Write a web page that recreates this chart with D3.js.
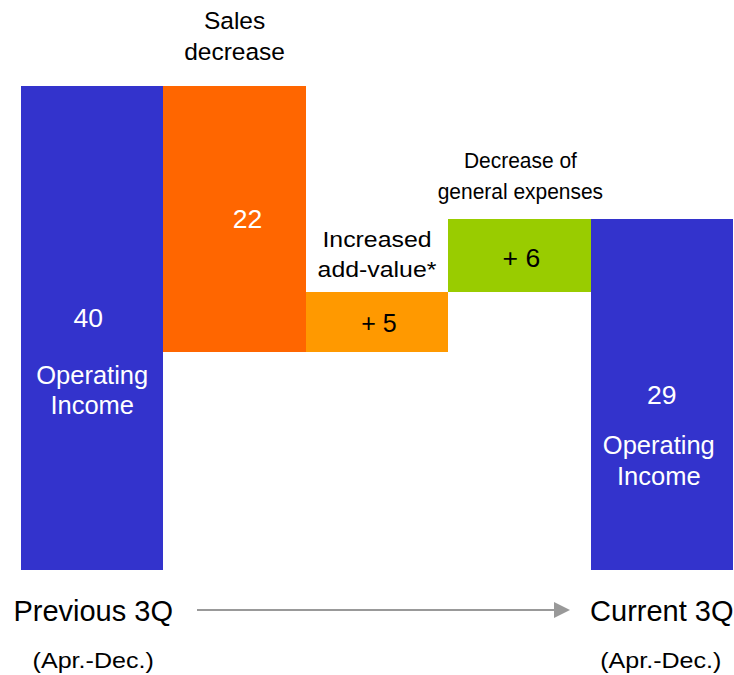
<!DOCTYPE html>
<html>
<head>
<meta charset="utf-8">
<script src="https://cdn.jsdelivr.net/npm/d3@7/dist/d3.min.js"></script>
<style>
  html, body { margin: 0; padding: 0; background: #fff; }
  svg { display: block; }
  text { font-family: "Liberation Sans", Arial, Helvetica, sans-serif; }
</style>
</head>
<body>
<svg id="chart" width="734" height="675"></svg>
<script>
// Operating income bridge: previous 3Q -> current 3Q
const categories = ["Previous 3Q", "Sales decrease", "Increased add-value*", "Decrease of general expenses", "Current 3Q"];
const kinds      = ["total", "delta", "delta", "delta", "total"];
const values     = [40, -22, 5, 6, 29];
const valueLabels = ["40", "22", "+ 5", "+ 6", "29"];
const colors     = ["#3333CC", "#FF6600", "#FF9900", "#99CC00", "#3333CC"];

const svg = d3.select("#chart");

// Running totals give each bar its start and end
let running = 0;
const bars = categories.map((c, i) => {
  let y0, y1;
  if (kinds[i] === "total") { y0 = 0; y1 = values[i]; running = values[i]; }
  else { y0 = running; y1 = running + values[i]; running = y1; }
  return { cat: c, i, lo: Math.min(y0, y1), hi: Math.max(y0, y1), label: valueLabels[i], color: colors[i] };
});

const x = d3.scaleBand().domain(categories).range([21, 733]).padding(0);
const y = d3.scaleLinear().domain([0, 40]).range([570, 86]);

svg.append("g").selectAll("rect").data(bars).join("rect")
  .attr("x", d => x(d.cat))
  .attr("y", d => y(d.hi))
  .attr("width", x.bandwidth())
  .attr("height", d => y(d.lo) - y(d.hi))
  .attr("fill", d => d.color)
  .attr("shape-rendering", "crispEdges");

function label(txt, cx, by, size, fill, sx = 1) {
  svg.append("text")
    .attr("transform", `translate(${cx},${by}) scale(${sx},1)`)
    .attr("text-anchor", "middle")
    .attr("font-size", size)
    .attr("fill", fill)
    .text(txt);
}

const midX = d => x(d.cat) + x.bandwidth() / 2;
const barTop = d => y(d.hi);

// Opening total
const b0 = bars[0];
label(b0.label, midX(b0) - 4, barTop(b0) + 241, 26.5, "#fff");
label("Operating", midX(b0), barTop(b0) + 298, 25.5, "#fff");
label("Income", midX(b0), barTop(b0) + 328, 25.5, "#fff");

// Sales decrease
const b1 = bars[1];
label("Sales", midX(b1), barTop(b1) - 57, 24.5, "#000");
label("decrease", midX(b1), barTop(b1) - 26, 24.5, "#000");
label(b1.label, midX(b1) + 13, barTop(b1) + 142, 26.5, "#fff");

// Increased add-value
const b2 = bars[2];
label("Increased", midX(b2), barTop(b2) - 45, 22, "#000", 1.13);
label("add-value*", midX(b2), barTop(b2) - 15, 22, "#000", 1.13);
label(b2.label, midX(b2) + 2, barTop(b2) + 40, 25, "#000");

// Decrease of general expenses
const b3 = bars[3];
label("Decrease of", midX(b3) + 1, barTop(b3) - 51, 22.3, "#000", 0.94);
label("general expenses", midX(b3) + 1, barTop(b3) - 20, 22.3, "#000", 0.94);
label(b3.label, midX(b3) + 2, barTop(b3) + 48, 26.5, "#000");

// Closing total
const b4 = bars[4];
label(b4.label, midX(b4), barTop(b4) + 185, 26.5, "#fff");
label("Operating", midX(b4) - 3, barTop(b4) + 235, 25.5, "#fff");
label("Income", midX(b4) - 3, barTop(b4) + 266, 25.5, "#fff");

// Period labels under the totals
label("Previous 3Q", midX(b0) + 1, 621, 29, "#000");
label("(Apr.-Dec.)", midX(b0) + 1, 668, 21.8, "#000", 1.15);
label("Current 3Q", midX(b4), 621, 29, "#000");
label("(Apr.-Dec.)", midX(b4) - 1, 668, 21.8, "#000", 1.15);

// Arrow from previous to current period
svg.append("defs").append("marker")
  .attr("id", "head")
  .attr("viewBox", "0 0 10 10")
  .attr("refX", 0).attr("refY", 5)
  .attr("markerUnits", "userSpaceOnUse")
  .attr("markerWidth", 16).attr("markerHeight", 16)
  .attr("orient", "auto")
  .append("path").attr("d", "M0,0 L10,5 L0,10 Z").attr("fill", "#999");

svg.append("line")
  .attr("x1", 197).attr("x2", 554)
  .attr("y1", 610).attr("y2", 610)
  .attr("stroke", "#999").attr("stroke-width", 2)
  .attr("marker-end", "url(#head)");
</script>
</body>
</html>
